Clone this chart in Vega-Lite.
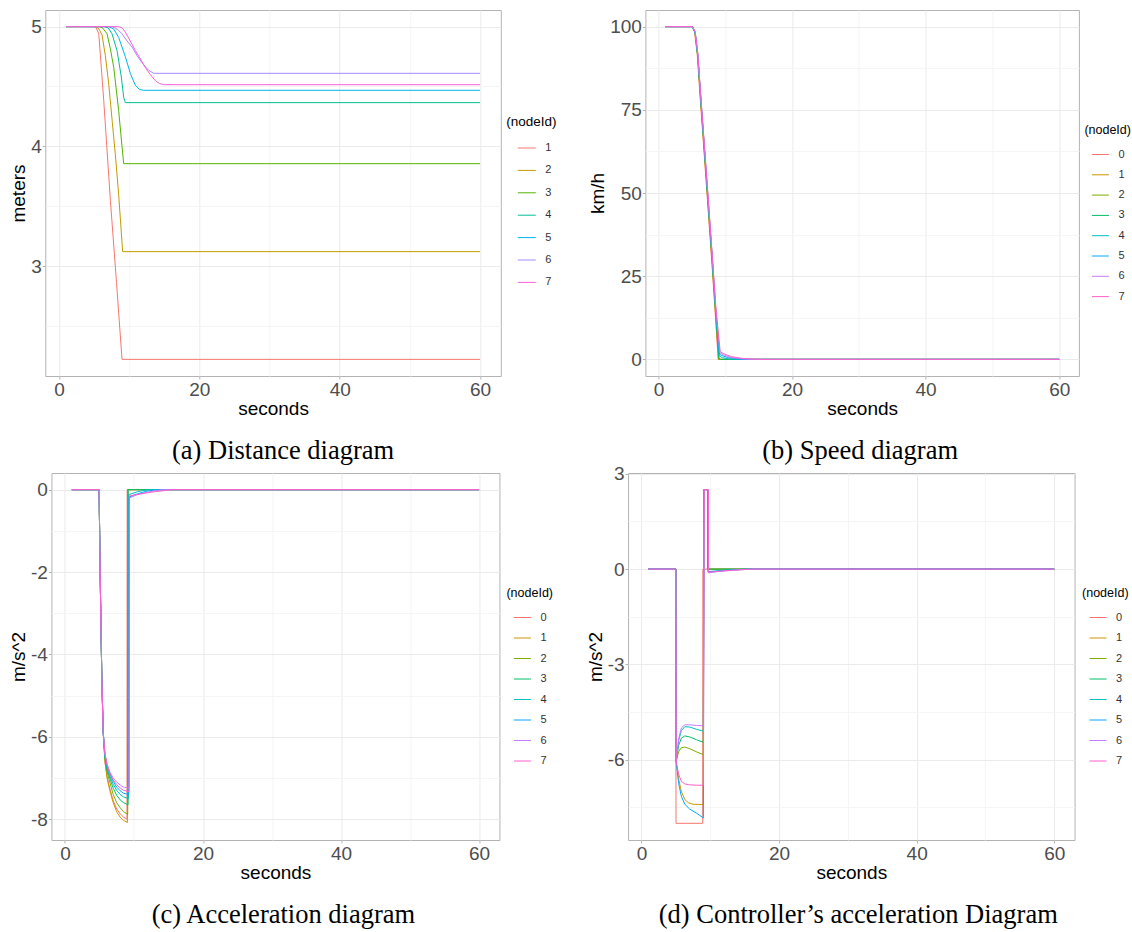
{
  "$schema": "https://vega.github.io/schema/vega-lite/v6.json",
  "background": "white",
  "padding": {"left": 8, "top": 9, "right": 0, "bottom": 0},
  "spacing": -1,
  "center": true,
  "datasets": {
    "dist": [
      {"id": "1", "t": 1, "v": 5}, {"id": "1", "t": 5.05, "v": 5}, {"id": "1", "t": 5.3, "v": 4.99}, {"id": "1", "t": 5.67, "v": 4.94}, {"id": "1", "t": 6, "v": 4.68}, {"id": "1", "t": 6.38, "v": 4.38}, {"id": "1", "t": 7.32, "v": 3.55}, {"id": "1", "t": 8.2, "v": 2.86}, {"id": "1", "t": 8.98, "v": 2.22}, {"id": "1", "t": 60, "v": 2.22},
      {"id": "2", "t": 1, "v": 5}, {"id": "2", "t": 5.3, "v": 5}, {"id": "2", "t": 5.7, "v": 4.98}, {"id": "2", "t": 6.14, "v": 4.93}, {"id": "2", "t": 6.6, "v": 4.76}, {"id": "2", "t": 7.09, "v": 4.52}, {"id": "2", "t": 7.6, "v": 4.2}, {"id": "2", "t": 8.03, "v": 3.93}, {"id": "2", "t": 8.5, "v": 3.6}, {"id": "2", "t": 9.07, "v": 3.12}, {"id": "2", "t": 60, "v": 3.12},
      {"id": "3", "t": 1, "v": 5}, {"id": "3", "t": 5.7, "v": 5}, {"id": "3", "t": 6.2, "v": 4.99}, {"id": "3", "t": 6.85, "v": 4.94}, {"id": "3", "t": 7.3, "v": 4.82}, {"id": "3", "t": 7.8, "v": 4.66}, {"id": "3", "t": 8.5, "v": 4.3}, {"id": "3", "t": 8.98, "v": 4.0}, {"id": "3", "t": 9.22, "v": 3.855}, {"id": "3", "t": 60, "v": 3.855},
      {"id": "4", "t": 1, "v": 5}, {"id": "4", "t": 6.4, "v": 5}, {"id": "4", "t": 7.0, "v": 4.99}, {"id": "4", "t": 7.56, "v": 4.94}, {"id": "4", "t": 8.27, "v": 4.8}, {"id": "4", "t": 8.88, "v": 4.58}, {"id": "4", "t": 9.22, "v": 4.41}, {"id": "4", "t": 9.45, "v": 4.365}, {"id": "4", "t": 60, "v": 4.365},
      {"id": "5", "t": 1, "v": 5}, {"id": "5", "t": 7.1, "v": 5}, {"id": "5", "t": 7.8, "v": 4.98}, {"id": "5", "t": 8.5, "v": 4.91}, {"id": "5", "t": 9.45, "v": 4.75}, {"id": "5", "t": 10.16, "v": 4.61}, {"id": "5", "t": 10.87, "v": 4.51}, {"id": "5", "t": 11.5, "v": 4.475}, {"id": "5", "t": 12.05, "v": 4.468}, {"id": "5", "t": 60, "v": 4.468},
      {"id": "6", "t": 1, "v": 5}, {"id": "6", "t": 7.56, "v": 5}, {"id": "6", "t": 8.3, "v": 4.98}, {"id": "6", "t": 8.98, "v": 4.94}, {"id": "6", "t": 9.7, "v": 4.88}, {"id": "6", "t": 10.4, "v": 4.83}, {"id": "6", "t": 11.1, "v": 4.76}, {"id": "6", "t": 11.8, "v": 4.7}, {"id": "6", "t": 12.77, "v": 4.635}, {"id": "6", "t": 13.5, "v": 4.61}, {"id": "6", "t": 60, "v": 4.61},
      {"id": "7", "t": 1, "v": 5}, {"id": "7", "t": 8.5, "v": 5}, {"id": "7", "t": 9.0, "v": 4.99}, {"id": "7", "t": 9.45, "v": 4.955}, {"id": "7", "t": 10.16, "v": 4.88}, {"id": "7", "t": 10.87, "v": 4.8}, {"id": "7", "t": 11.6, "v": 4.73}, {"id": "7", "t": 12.28, "v": 4.66}, {"id": "7", "t": 13.0, "v": 4.6}, {"id": "7", "t": 13.7, "v": 4.55}, {"id": "7", "t": 14.3, "v": 4.525}, {"id": "7", "t": 14.9, "v": 4.515}, {"id": "7", "t": 60, "v": 4.515}
    ],
    "speed": [
      {"id": "0", "t": 1, "v": 100}, {"id": "0", "t": 5.1, "v": 100}, {"id": "0", "t": 5.4, "v": 98.5}, {"id": "0", "t": 5.8, "v": 92}, {"id": "0", "t": 6.2, "v": 80}, {"id": "0", "t": 6.7, "v": 66}, {"id": "0", "t": 7.3, "v": 49}, {"id": "0", "t": 8.0, "v": 29}, {"id": "0", "t": 8.5, "v": 14}, {"id": "0", "t": 8.95, "v": 0}, {"id": "0", "t": 60, "v": 0},
      {"id": "1", "t": 1, "v": 100}, {"id": "1", "t": 5.1, "v": 100}, {"id": "1", "t": 5.45, "v": 98.3}, {"id": "1", "t": 5.85, "v": 91.5}, {"id": "1", "t": 6.25, "v": 79.5}, {"id": "1", "t": 6.75, "v": 65.5}, {"id": "1", "t": 7.35, "v": 48.5}, {"id": "1", "t": 8.05, "v": 28.5}, {"id": "1", "t": 8.55, "v": 13.5}, {"id": "1", "t": 9.0, "v": 0}, {"id": "1", "t": 60, "v": 0},
      {"id": "2", "t": 1, "v": 100}, {"id": "2", "t": 5.1, "v": 100}, {"id": "2", "t": 5.5, "v": 98}, {"id": "2", "t": 5.9, "v": 91}, {"id": "2", "t": 6.3, "v": 79}, {"id": "2", "t": 6.8, "v": 65}, {"id": "2", "t": 7.4, "v": 48}, {"id": "2", "t": 8.1, "v": 28}, {"id": "2", "t": 8.6, "v": 13}, {"id": "2", "t": 9.05, "v": 0}, {"id": "2", "t": 60, "v": 0},
      {"id": "3", "t": 1, "v": 100}, {"id": "3", "t": 5.1, "v": 100}, {"id": "3", "t": 5.5, "v": 98}, {"id": "3", "t": 5.9, "v": 91}, {"id": "3", "t": 6.3, "v": 79.2}, {"id": "3", "t": 6.8, "v": 65.3}, {"id": "3", "t": 7.4, "v": 48.4}, {"id": "3", "t": 8.1, "v": 28.5}, {"id": "3", "t": 8.6, "v": 13.6}, {"id": "3", "t": 9.05, "v": 0.4}, {"id": "3", "t": 9.3, "v": 0}, {"id": "3", "t": 60, "v": 0},
      {"id": "4", "t": 1, "v": 100}, {"id": "4", "t": 5.1, "v": 100}, {"id": "4", "t": 5.5, "v": 98.2}, {"id": "4", "t": 5.9, "v": 91.3}, {"id": "4", "t": 6.3, "v": 79.5}, {"id": "4", "t": 6.8, "v": 65.6}, {"id": "4", "t": 7.4, "v": 48.8}, {"id": "4", "t": 8.1, "v": 29}, {"id": "4", "t": 8.6, "v": 14}, {"id": "4", "t": 9.1, "v": 1.0}, {"id": "4", "t": 9.6, "v": 0.5}, {"id": "4", "t": 10.5, "v": 0.15}, {"id": "4", "t": 12, "v": 0}, {"id": "4", "t": 60, "v": 0},
      {"id": "5", "t": 1, "v": 100}, {"id": "5", "t": 5.1, "v": 100}, {"id": "5", "t": 5.5, "v": 98.3}, {"id": "5", "t": 5.9, "v": 91.5}, {"id": "5", "t": 6.3, "v": 79.8}, {"id": "5", "t": 6.8, "v": 66}, {"id": "5", "t": 7.4, "v": 49.2}, {"id": "5", "t": 8.1, "v": 29.4}, {"id": "5", "t": 8.6, "v": 14.5}, {"id": "5", "t": 9.15, "v": 1.5}, {"id": "5", "t": 9.7, "v": 1.0}, {"id": "5", "t": 10.5, "v": 0.5}, {"id": "5", "t": 12, "v": 0.1}, {"id": "5", "t": 13, "v": 0}, {"id": "5", "t": 60, "v": 0},
      {"id": "6", "t": 1, "v": 100}, {"id": "6", "t": 5.1, "v": 100}, {"id": "6", "t": 5.5, "v": 98.4}, {"id": "6", "t": 5.9, "v": 91.7}, {"id": "6", "t": 6.3, "v": 80}, {"id": "6", "t": 6.8, "v": 66.3}, {"id": "6", "t": 7.4, "v": 49.6}, {"id": "6", "t": 8.1, "v": 29.8}, {"id": "6", "t": 8.6, "v": 15}, {"id": "6", "t": 9.2, "v": 2.0}, {"id": "6", "t": 9.8, "v": 1.3}, {"id": "6", "t": 11, "v": 0.5}, {"id": "6", "t": 12.5, "v": 0.15}, {"id": "6", "t": 14, "v": 0}, {"id": "6", "t": 60, "v": 0},
      {"id": "7", "t": 1, "v": 100}, {"id": "7", "t": 5.1, "v": 100}, {"id": "7", "t": 5.5, "v": 98.5}, {"id": "7", "t": 5.9, "v": 92}, {"id": "7", "t": 6.3, "v": 80.3}, {"id": "7", "t": 6.8, "v": 66.6}, {"id": "7", "t": 7.4, "v": 50}, {"id": "7", "t": 8.1, "v": 30.2}, {"id": "7", "t": 8.6, "v": 15.5}, {"id": "7", "t": 9.25, "v": 2.3}, {"id": "7", "t": 10, "v": 1.5}, {"id": "7", "t": 11, "v": 0.8}, {"id": "7", "t": 12.5, "v": 0.3}, {"id": "7", "t": 14, "v": 0.1}, {"id": "7", "t": 15.5, "v": 0}, {"id": "7", "t": 60, "v": 0}
    ],
    "acc": [
      {"id": "0", "t": 1, "v": 0}, {"id": "0", "t": 4.95, "v": 0}, {"id": "0", "t": 5.15, "v": -2.5}, {"id": "0", "t": 5.35, "v": -4.6}, {"id": "0", "t": 5.55, "v": -5.9}, {"id": "0", "t": 5.8, "v": -6.6}, {"id": "0", "t": 6.1, "v": -6.95}, {"id": "0", "t": 6.5, "v": -7.25}, {"id": "0", "t": 7, "v": -7.55}, {"id": "0", "t": 7.5, "v": -7.75}, {"id": "0", "t": 8, "v": -7.87}, {"id": "0", "t": 8.5, "v": -7.95}, {"id": "0", "t": 9.0, "v": -8.0}, {"id": "0", "t": 9.02, "v": 0}, {"id": "0", "t": 60, "v": 0},
      {"id": "1", "t": 1, "v": 0}, {"id": "1", "t": 4.95, "v": 0}, {"id": "1", "t": 5.15, "v": -2.5}, {"id": "1", "t": 5.35, "v": -4.6}, {"id": "1", "t": 5.55, "v": -5.9}, {"id": "1", "t": 5.8, "v": -6.6}, {"id": "1", "t": 6.1, "v": -7.0}, {"id": "1", "t": 6.5, "v": -7.3}, {"id": "1", "t": 7, "v": -7.6}, {"id": "1", "t": 7.5, "v": -7.82}, {"id": "1", "t": 8, "v": -7.95}, {"id": "1", "t": 8.5, "v": -8.03}, {"id": "1", "t": 9.05, "v": -8.08}, {"id": "1", "t": 9.07, "v": 0}, {"id": "1", "t": 60, "v": 0},
      {"id": "2", "t": 1, "v": 0}, {"id": "2", "t": 4.95, "v": 0}, {"id": "2", "t": 5.15, "v": -2.5}, {"id": "2", "t": 5.35, "v": -4.6}, {"id": "2", "t": 5.55, "v": -5.9}, {"id": "2", "t": 5.8, "v": -6.55}, {"id": "2", "t": 6.1, "v": -6.85}, {"id": "2", "t": 6.5, "v": -7.1}, {"id": "2", "t": 7, "v": -7.4}, {"id": "2", "t": 7.5, "v": -7.6}, {"id": "2", "t": 8, "v": -7.72}, {"id": "2", "t": 8.5, "v": -7.82}, {"id": "2", "t": 9.1, "v": -7.88}, {"id": "2", "t": 9.12, "v": 0}, {"id": "2", "t": 60, "v": 0},
      {"id": "3", "t": 1, "v": 0}, {"id": "3", "t": 4.95, "v": 0}, {"id": "3", "t": 5.15, "v": -2.5}, {"id": "3", "t": 5.35, "v": -4.6}, {"id": "3", "t": 5.55, "v": -5.9}, {"id": "3", "t": 5.8, "v": -6.5}, {"id": "3", "t": 6.1, "v": -6.8}, {"id": "3", "t": 6.5, "v": -7.0}, {"id": "3", "t": 7, "v": -7.25}, {"id": "3", "t": 7.5, "v": -7.42}, {"id": "3", "t": 8, "v": -7.53}, {"id": "3", "t": 8.5, "v": -7.6}, {"id": "3", "t": 9.15, "v": -7.65}, {"id": "3", "t": 9.17, "v": 0}, {"id": "3", "t": 60, "v": 0},
      {"id": "4", "t": 1, "v": 0}, {"id": "4", "t": 4.95, "v": 0}, {"id": "4", "t": 5.15, "v": -2.5}, {"id": "4", "t": 5.35, "v": -4.6}, {"id": "4", "t": 5.55, "v": -5.9}, {"id": "4", "t": 5.8, "v": -6.47}, {"id": "4", "t": 6.1, "v": -6.75}, {"id": "4", "t": 6.5, "v": -6.95}, {"id": "4", "t": 7, "v": -7.15}, {"id": "4", "t": 7.5, "v": -7.3}, {"id": "4", "t": 8, "v": -7.4}, {"id": "4", "t": 8.5, "v": -7.46}, {"id": "4", "t": 9.2, "v": -7.5}, {"id": "4", "t": 9.25, "v": -0.12}, {"id": "4", "t": 10.5, "v": -0.05}, {"id": "4", "t": 12, "v": 0}, {"id": "4", "t": 60, "v": 0},
      {"id": "5", "t": 1, "v": 0}, {"id": "5", "t": 4.95, "v": 0}, {"id": "5", "t": 5.15, "v": -2.5}, {"id": "5", "t": 5.35, "v": -4.6}, {"id": "5", "t": 5.55, "v": -5.9}, {"id": "5", "t": 5.8, "v": -6.44}, {"id": "5", "t": 6.1, "v": -6.7}, {"id": "5", "t": 6.5, "v": -6.9}, {"id": "5", "t": 7, "v": -7.08}, {"id": "5", "t": 7.5, "v": -7.22}, {"id": "5", "t": 8, "v": -7.31}, {"id": "5", "t": 8.5, "v": -7.37}, {"id": "5", "t": 9.25, "v": -7.4}, {"id": "5", "t": 9.3, "v": -0.18}, {"id": "5", "t": 10.5, "v": -0.1}, {"id": "5", "t": 12, "v": -0.03}, {"id": "5", "t": 13.5, "v": 0}, {"id": "5", "t": 60, "v": 0},
      {"id": "6", "t": 1, "v": 0}, {"id": "6", "t": 4.95, "v": 0}, {"id": "6", "t": 5.15, "v": -2.5}, {"id": "6", "t": 5.35, "v": -4.6}, {"id": "6", "t": 5.55, "v": -5.9}, {"id": "6", "t": 5.8, "v": -6.4}, {"id": "6", "t": 6.1, "v": -6.65}, {"id": "6", "t": 6.5, "v": -6.85}, {"id": "6", "t": 7, "v": -7.0}, {"id": "6", "t": 7.5, "v": -7.1}, {"id": "6", "t": 8, "v": -7.17}, {"id": "6", "t": 8.5, "v": -7.22}, {"id": "6", "t": 9.3, "v": -7.25}, {"id": "6", "t": 9.35, "v": -0.2}, {"id": "6", "t": 10.5, "v": -0.12}, {"id": "6", "t": 12, "v": -0.06}, {"id": "6", "t": 14, "v": 0}, {"id": "6", "t": 60, "v": 0},
      {"id": "7", "t": 1, "v": 0}, {"id": "7", "t": 4.95, "v": 0}, {"id": "7", "t": 5.15, "v": -2.5}, {"id": "7", "t": 5.35, "v": -4.6}, {"id": "7", "t": 5.55, "v": -5.9}, {"id": "7", "t": 5.8, "v": -6.42}, {"id": "7", "t": 6.1, "v": -6.68}, {"id": "7", "t": 6.5, "v": -6.88}, {"id": "7", "t": 7, "v": -7.05}, {"id": "7", "t": 7.5, "v": -7.16}, {"id": "7", "t": 8, "v": -7.24}, {"id": "7", "t": 8.5, "v": -7.3}, {"id": "7", "t": 9.3, "v": -7.33}, {"id": "7", "t": 9.35, "v": -0.15}, {"id": "7", "t": 11, "v": -0.1}, {"id": "7", "t": 13, "v": -0.05}, {"id": "7", "t": 15.5, "v": 0}, {"id": "7", "t": 60, "v": 0}
    ],
    "ctrl": [
      {"id": "0", "t": 1, "v": 0}, {"id": "0", "t": 5.0, "v": 0}, {"id": "0", "t": 5.02, "v": -8}, {"id": "0", "t": 8.9, "v": -8}, {"id": "0", "t": 8.92, "v": 0}, {"id": "0", "t": 60, "v": 0},
      {"id": "1", "t": 1, "v": 0}, {"id": "1", "t": 5.0, "v": 0}, {"id": "1", "t": 5.05, "v": -6.1}, {"id": "1", "t": 5.4, "v": -6.6}, {"id": "1", "t": 5.8, "v": -7.0}, {"id": "1", "t": 6.3, "v": -7.25}, {"id": "1", "t": 6.8, "v": -7.35}, {"id": "1", "t": 7.5, "v": -7.4}, {"id": "1", "t": 9.0, "v": -7.41}, {"id": "1", "t": 9.05, "v": 2.5}, {"id": "1", "t": 9.6, "v": 2.5}, {"id": "1", "t": 9.62, "v": 0}, {"id": "1", "t": 60, "v": 0},
      {"id": "2", "t": 1, "v": 0}, {"id": "2", "t": 5.0, "v": 0}, {"id": "2", "t": 5.05, "v": -6.05}, {"id": "2", "t": 5.4, "v": -5.75}, {"id": "2", "t": 5.8, "v": -5.62}, {"id": "2", "t": 6.3, "v": -5.6}, {"id": "2", "t": 7.0, "v": -5.65}, {"id": "2", "t": 8.0, "v": -5.75}, {"id": "2", "t": 9.0, "v": -5.84}, {"id": "2", "t": 9.05, "v": 2.5}, {"id": "2", "t": 9.6, "v": 2.5}, {"id": "2", "t": 9.62, "v": 0}, {"id": "2", "t": 60, "v": 0},
      {"id": "3", "t": 1, "v": 0}, {"id": "3", "t": 5.0, "v": 0}, {"id": "3", "t": 5.05, "v": -6.05}, {"id": "3", "t": 5.4, "v": -5.55}, {"id": "3", "t": 5.8, "v": -5.32}, {"id": "3", "t": 6.3, "v": -5.25}, {"id": "3", "t": 7.0, "v": -5.28}, {"id": "3", "t": 8.0, "v": -5.37}, {"id": "3", "t": 9.0, "v": -5.45}, {"id": "3", "t": 9.07, "v": 2.5}, {"id": "3", "t": 9.62, "v": 2.5}, {"id": "3", "t": 9.64, "v": 0}, {"id": "3", "t": 60, "v": 0},
      {"id": "4", "t": 1, "v": 0}, {"id": "4", "t": 5.0, "v": 0}, {"id": "4", "t": 5.05, "v": -6.05}, {"id": "4", "t": 5.4, "v": -5.4}, {"id": "4", "t": 5.8, "v": -5.08}, {"id": "4", "t": 6.3, "v": -4.96}, {"id": "4", "t": 7.0, "v": -4.97}, {"id": "4", "t": 8.0, "v": -5.04}, {"id": "4", "t": 9.0, "v": -5.1}, {"id": "4", "t": 9.08, "v": 2.5}, {"id": "4", "t": 9.65, "v": 2.5}, {"id": "4", "t": 9.67, "v": -0.08}, {"id": "4", "t": 11, "v": -0.05}, {"id": "4", "t": 13, "v": -0.02}, {"id": "4", "t": 15.5, "v": 0}, {"id": "4", "t": 60, "v": 0},
      {"id": "5", "t": 1, "v": 0}, {"id": "5", "t": 5.0, "v": 0}, {"id": "5", "t": 5.05, "v": -6.05}, {"id": "5", "t": 5.4, "v": -6.75}, {"id": "5", "t": 5.8, "v": -7.15}, {"id": "5", "t": 6.3, "v": -7.4}, {"id": "5", "t": 7.0, "v": -7.55}, {"id": "5", "t": 8.0, "v": -7.68}, {"id": "5", "t": 9.0, "v": -7.83}, {"id": "5", "t": 9.1, "v": 2.5}, {"id": "5", "t": 9.68, "v": 2.5}, {"id": "5", "t": 9.7, "v": -0.1}, {"id": "5", "t": 11, "v": -0.07}, {"id": "5", "t": 13, "v": -0.03}, {"id": "5", "t": 15.5, "v": 0}, {"id": "5", "t": 60, "v": 0},
      {"id": "6", "t": 1, "v": 0}, {"id": "6", "t": 5.0, "v": 0}, {"id": "6", "t": 5.05, "v": -6.05}, {"id": "6", "t": 5.4, "v": -5.35}, {"id": "6", "t": 5.8, "v": -5.0}, {"id": "6", "t": 6.3, "v": -4.9}, {"id": "6", "t": 7.0, "v": -4.9}, {"id": "6", "t": 8.0, "v": -4.92}, {"id": "6", "t": 9.0, "v": -4.93}, {"id": "6", "t": 9.12, "v": 2.5}, {"id": "6", "t": 9.72, "v": 2.5}, {"id": "6", "t": 9.74, "v": -0.12}, {"id": "6", "t": 11, "v": -0.08}, {"id": "6", "t": 13, "v": -0.04}, {"id": "6", "t": 16, "v": 0}, {"id": "6", "t": 60, "v": 0},
      {"id": "7", "t": 1, "v": 0}, {"id": "7", "t": 5.0, "v": 0}, {"id": "7", "t": 5.05, "v": -6.05}, {"id": "7", "t": 5.4, "v": -6.45}, {"id": "7", "t": 5.8, "v": -6.68}, {"id": "7", "t": 6.3, "v": -6.76}, {"id": "7", "t": 7.0, "v": -6.79}, {"id": "7", "t": 8.0, "v": -6.8}, {"id": "7", "t": 9.0, "v": -6.8}, {"id": "7", "t": 9.12, "v": 2.5}, {"id": "7", "t": 9.74, "v": 2.5}, {"id": "7", "t": 9.76, "v": -0.1}, {"id": "7", "t": 11, "v": -0.07}, {"id": "7", "t": 13, "v": -0.04}, {"id": "7", "t": 16, "v": 0}, {"id": "7", "t": 60, "v": 0}
    ]
  },
  "vconcat": [
    {
      "hconcat": [
        {
          "width": 455.5,
          "height": 366,
          "title": {"text": "(a) Distance diagram", "dx": 10},
          "data": {"name": "dist"},
          "mark": {"type": "line"},
          "encoding": {
            "x": {"field": "t", "type": "quantitative", "scale": {"domain": [-1.95, 62.95], "nice": false, "zero": false},
              "axis": {"title": "seconds", "values": [0, 10, 20, 30, 40, 50, 60],
                "labelExpr": "datum.value % 20 === 0 ? toString(datum.value) : ''",
                "gridColor": {"condition": {"test": "datum.value % 20 !== 0", "value": "#F5F5F5"}, "value": "#EBEBEB"},
                "tickOpacity": {"condition": {"test": "datum.value % 20 !== 0", "value": 0}, "value": 1}}},
            "y": {"field": "v", "type": "quantitative", "scale": {"domain": [2.081, 5.139], "nice": false, "zero": false},
              "axis": {"title": "meters", "values": [2.5, 3, 3.5, 4, 4.5, 5], "minExtent": 14.5, "maxExtent": 14.5,
                "labelExpr": "datum.value % 1 === 0 ? toString(datum.value) : ''",
                "gridColor": {"condition": {"test": "datum.value % 1 !== 0", "value": "#F5F5F5"}, "value": "#EBEBEB"},
                "tickOpacity": {"condition": {"test": "datum.value % 1 !== 0", "value": 0}, "value": 1}}},
            "color": {"field": "id", "type": "nominal",
              "scale": {"domain": ["1", "2", "3", "4", "5", "6", "7"], "range": ["#F8766D", "#C49A00", "#53B400", "#00C094", "#00B6EB", "#A58AFF", "#FB61D7"]},
              "legend": {"title": "(nodeId)", "orient": "none", "legendX": 461, "legendY": 105, "titleFontSize": 13.5, "titlePadding": 10, "rowPadding": 7.4, "symbolOffset": 11, "symbolSize": 324}}
          }
        },
        {
          "width": 433.5,
          "height": 366,
          "title": {"text": "(b) Speed diagram", "dx": -2},
          "data": {"name": "speed"},
          "mark": {"type": "line"},
          "encoding": {
            "x": {"field": "t", "type": "quantitative", "scale": {"domain": [-1.95, 62.95], "nice": false, "zero": false},
              "axis": {"title": "seconds", "values": [0, 10, 20, 30, 40, 50, 60],
                "labelExpr": "datum.value % 20 === 0 ? toString(datum.value) : ''",
                "gridColor": {"condition": {"test": "datum.value % 20 !== 0", "value": "#F5F5F5"}, "value": "#EBEBEB"},
                "tickOpacity": {"condition": {"test": "datum.value % 20 !== 0", "value": 0}, "value": 1}}},
            "y": {"field": "v", "type": "quantitative", "scale": {"domain": [-5, 105], "nice": false, "zero": false},
              "axis": {"title": "km/h", "values": [0, 12.5, 25, 37.5, 50, 62.5, 75, 87.5, 100], "minExtent": 35.5, "maxExtent": 35.5,
                "labelExpr": "datum.value % 25 === 0 ? toString(datum.value) : ''",
                "gridColor": {"condition": {"test": "datum.value % 25 !== 0", "value": "#F5F5F5"}, "value": "#EBEBEB"},
                "tickOpacity": {"condition": {"test": "datum.value % 25 !== 0", "value": 0}, "value": 1}}},
            "color": {"field": "id", "type": "nominal",
              "scale": {"domain": ["0", "1", "2", "3", "4", "5", "6", "7"], "range": ["#F8766D", "#CD9600", "#7CAE00", "#00BE67", "#00BFC4", "#00A9FF", "#C77CFF", "#FF61CC"]},
              "legend": {"title": "(nodeId)", "orient": "none", "legendX": 434.8, "legendY": 109.8, "padding": 4.2, "titleFontSize": 12.5, "titlePadding": 9, "rowPadding": 6.3, "symbolOffset": 7, "symbolSize": 289}}
          }
        }
      ],
      "spacing": 30.1,
      "resolve": {"scale": {"color": "independent"}, "legend": {"color": "independent"}}
    },
    {
      "hconcat": [
        {
          "width": 448,
          "height": 367,
          "title": {"text": "(c) Acceleration diagram", "dx": 8},
          "data": {"name": "acc"},
          "mark": {"type": "line"},
          "encoding": {
            "x": {"field": "t", "type": "quantitative", "scale": {"domain": [-1.95, 62.95], "nice": false, "zero": false},
              "axis": {"title": "seconds", "values": [0, 10, 20, 30, 40, 50, 60],
                "labelExpr": "datum.value % 20 === 0 ? toString(datum.value) : ''",
                "gridColor": {"condition": {"test": "datum.value % 20 !== 0", "value": "#F5F5F5"}, "value": "#EBEBEB"},
                "tickOpacity": {"condition": {"test": "datum.value % 20 !== 0", "value": 0}, "value": 1}}},
            "y": {"field": "v", "type": "quantitative", "scale": {"domain": [-8.505, 0.405], "nice": false, "zero": false},
              "axis": {"title": "m/s^2", "values": [-8, -7, -6, -5, -4, -3, -2, -1, 0], "minExtent": 21, "maxExtent": 21,
                "labelExpr": "datum.value % 2 === 0 ? toString(datum.value) : ''",
                "gridColor": {"condition": {"test": "datum.value % 2 !== 0", "value": "#F5F5F5"}, "value": "#EBEBEB"},
                "tickOpacity": {"condition": {"test": "datum.value % 2 !== 0", "value": 0}, "value": 1}}},
            "color": {"field": "id", "type": "nominal",
              "scale": {"domain": ["0", "1", "2", "3", "4", "5", "6", "7"], "range": ["#F8766D", "#CD9600", "#7CAE00", "#00BE67", "#00BFC4", "#00A9FF", "#C77CFF", "#FF61CC"]},
              "legend": {"title": "(nodeId)", "orient": "none", "legendX": 455, "legendY": 114, "titleFontSize": 12.5, "titlePadding": 9, "rowPadding": 6.5, "symbolOffset": 7, "symbolSize": 289}}
          }
        },
        {
          "width": 446.5,
          "height": 367,
          "title": {"text": "(d) Controller\u2019s acceleration Diagram", "dx": 7},
          "data": {"name": "ctrl"},
          "mark": {"type": "line"},
          "encoding": {
            "x": {"field": "t", "type": "quantitative", "scale": {"domain": [-1.95, 62.95], "nice": false, "zero": false},
              "axis": {"title": "seconds", "values": [0, 10, 20, 30, 40, 50, 60],
                "labelExpr": "datum.value % 20 === 0 ? toString(datum.value) : ''",
                "gridColor": {"condition": {"test": "datum.value % 20 !== 0", "value": "#F5F5F5"}, "value": "#EBEBEB"},
                "tickOpacity": {"condition": {"test": "datum.value % 20 !== 0", "value": 0}, "value": 1}}},
            "y": {"field": "v", "type": "quantitative", "scale": {"domain": [-8.525, 3.025], "nice": false, "zero": false},
              "axis": {"title": "m/s^2", "values": [-7.5, -6, -4.5, -3, -1.5, 0, 1.5, 3], "minExtent": 21, "maxExtent": 21,
                "labelExpr": "datum.value % 3 === 0 ? toString(datum.value) : ''",
                "gridColor": {"condition": {"test": "datum.value % 3 !== 0", "value": "#F5F5F5"}, "value": "#EBEBEB"},
                "tickOpacity": {"condition": {"test": "datum.value % 3 !== 0", "value": 0}, "value": 1}}},
            "color": {"field": "id", "type": "nominal",
              "scale": {"domain": ["0", "1", "2", "3", "4", "5", "6", "7"], "range": ["#F8766D", "#CD9600", "#7CAE00", "#00BE67", "#00BFC4", "#00A9FF", "#C77CFF", "#FF61CC"]},
              "legend": {"title": "(nodeId)", "orient": "none", "legendX": 454, "legendY": 114, "titleFontSize": 12.5, "titlePadding": 9, "rowPadding": 6.5, "symbolOffset": 7, "symbolSize": 289}}
          }
        }
      ],
      "spacing": 30.6,
      "resolve": {"scale": {"color": "independent"}, "legend": {"color": "independent"}}
    }
  ],
  "resolve": {"scale": {"color": "independent"}, "legend": {"color": "independent"}},
  "config": {
    "view": {"stroke": "#B3B3B3", "strokeWidth": 1},
    "line": {"strokeWidth": 1},
    "axis": {"domain": false, "grid": true, "gridWidth": 1, "labelFont": "Liberation Sans", "labelFontSize": 19, "labelColor": "#4D4D4D",
      "titleFont": "Liberation Sans", "titleFontSize": 19, "titleFontWeight": "normal", "titleColor": "#000000",
      "tickColor": "#B3B3B3", "tickSize": 3, "labelPadding": 1, "labelFlush": false, "labelOverlap": false},
    "axisX": {"titlePadding": 0},
    "axisY": {"titlePadding": 2},
    "legend": {"titleFont": "Liberation Sans", "titleFontWeight": "normal", "titleColor": "#000000",
      "labelFont": "Liberation Sans", "labelFontSize": 11, "labelColor": "#333333", "labelOffset": 9,
      "symbolType": "stroke", "symbolStrokeWidth": 2},
    "title": {"font": "Liberation Serif", "fontSize": 26.5, "fontWeight": "normal", "color": "#000000", "orient": "bottom", "anchor": "middle", "offset": 20}
  }
}
